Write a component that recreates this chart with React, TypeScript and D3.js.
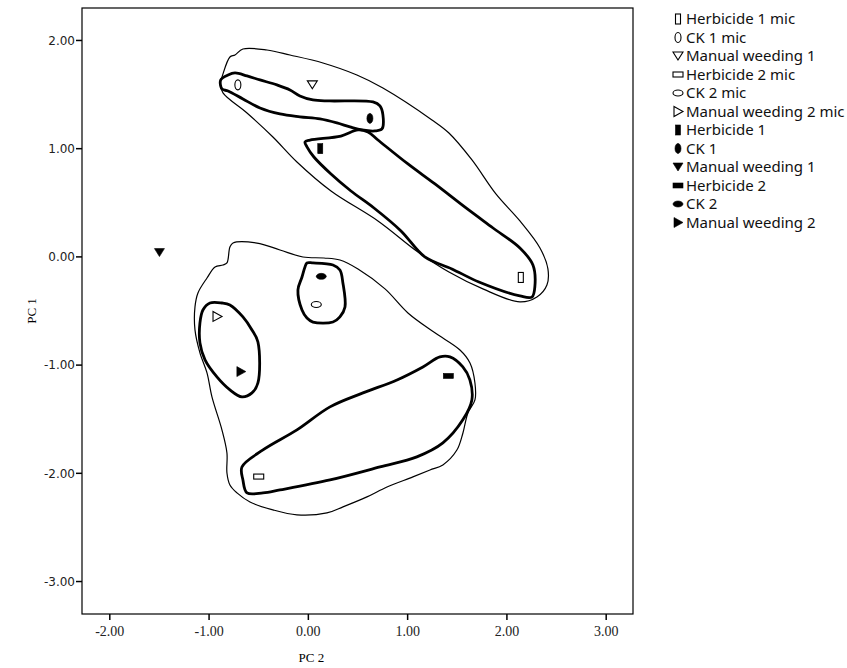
import React from 'react'
import * as d3 from 'd3'

// legend order / series
const seriesNames = [
  'Herbicide 1 mic', 'CK 1 mic', 'Manual weeding 1', 'Herbicide 2 mic', 'CK 2 mic', 'Manual weeding 2 mic',
  'Herbicide 1', 'CK 1', 'Manual weeding 1', 'Herbicide 2', 'CK 2', 'Manual weeding 2',
]
const pc2Values = [2.14, -0.71, 0.04, -0.5, 0.08, -0.92, 0.12, 0.62, -1.5, 1.41, 0.13, -0.68]
const pc1Values = [-0.19, 1.59, 1.59, -2.03, -0.44, -0.55, 1.0, 1.28, 0.04, -1.1, -0.18, -1.06]

const xTicks = [-2, -1, 0, 1, 2, 3]
const yTicks = [2, 1, 0, -1, -2, -3]

// cluster outlines, [PC 2, PC 1]
const upperOuter: [number, number][] = [
  [-0.87, 1.663], [-0.79, 1.847], [-0.739, 1.866], [-0.659, 1.921], [-0.417, 1.912], [-0.185, 1.866],
  [0.147, 1.792], [0.489, 1.681], [0.751, 1.561], [1.245, 1.266], [1.416, 1.145], [1.648, 0.896],
  [1.889, 0.582], [2.131, 0.332], [2.333, 0.082], [2.413, -0.111], [2.403, -0.259], [2.302, -0.37],
  [2.131, -0.416], [1.758, -0.296], [1.416, -0.14], [1.104, 0.045], [0.701, 0.332], [0.228, 0.609],
  [-0.115, 0.877], [-0.357, 1.108], [-0.618, 1.33], [-0.86, 1.515], [-0.89, 1.607],
]
const ck1Group: [number, number][] = [
  [-0.883, 1.635], [-0.809, 1.681], [-0.739, 1.7], [-0.618, 1.672], [-0.487, 1.635], [-0.316, 1.589],
  [-0.185, 1.543], [-0.085, 1.487], [0.046, 1.45], [0.218, 1.441], [0.651, 1.432], [0.721, 1.395],
  [0.751, 1.312], [0.741, 1.182], [0.671, 1.164], [0.54, 1.173], [0.419, 1.201], [0.288, 1.238],
  [0.117, 1.275], [-0.085, 1.294], [-0.286, 1.321], [-0.487, 1.376], [-0.659, 1.459], [-0.809, 1.533],
  [-0.87, 1.552],
]
const herb1Group: [number, number][] = [
  [-0.034, 1.062], [0.016, 1.08], [0.328, 1.117], [0.5, 1.173], [0.6, 1.154], [0.701, 1.08],
  [1.003, 0.859], [1.275, 0.674], [1.588, 0.452], [1.86, 0.267], [2.131, 0.082], [2.262, -0.075],
  [2.282, -0.269], [2.252, -0.371], [2.131, -0.361], [1.718, -0.232], [1.446, -0.111], [1.173, 0.0],
  [0.933, 0.24], [0.661, 0.452], [0.429, 0.609], [0.228, 0.766], [0.056, 0.923], [-0.014, 1.017],
]
const lowerOuter: [number, number][] = [
  [-0.759, 0.128], [-0.518, 0.128], [-0.286, 0.064], [-0.054, -0.001], [0.157, -0.01], [0.318, -0.029],
  [0.5, -0.112], [0.772, -0.296], [1.003, -0.518], [1.275, -0.702], [1.527, -0.86], [1.628, -0.98],
  [1.678, -1.165], [1.678, -1.322], [1.607, -1.442], [1.557, -1.627], [1.496, -1.785], [1.355, -1.922],
  [1.225, -1.969], [1.053, -2.033], [0.792, -2.126], [0.59, -2.218], [0.349, -2.31], [0.187, -2.366],
  [-0.115, -2.384], [-0.357, -2.338], [-0.588, -2.265], [-0.719, -2.181], [-0.79, -2.108], [-0.82, -1.997],
  [-0.82, -1.812], [-0.87, -1.6], [-0.971, -1.294], [-1.021, -1.072], [-1.092, -0.887], [-1.142, -0.675],
  [-1.142, -0.462], [-1.112, -0.333], [-1.021, -0.195], [-0.94, -0.093], [-0.86, -0.075], [-0.82, -0.056],
  [-0.79, 0.091],
]
const ck2Group: [number, number][] = [
  [-0.014, -0.056], [0.046, -0.056], [0.248, -0.075], [0.318, -0.121], [0.348, -0.241], [0.369, -0.463],
  [0.318, -0.555], [0.248, -0.602], [0.046, -0.602], [-0.014, -0.565], [-0.064, -0.491], [-0.105, -0.306],
  [-0.064, -0.186], [-0.034, -0.093],
]
const mw2Group: [number, number][] = [
  [-0.991, -0.426], [-0.87, -0.426], [-0.79, -0.444], [-0.659, -0.555], [-0.568, -0.675], [-0.508, -0.786],
  [-0.508, -1.165], [-0.568, -1.257], [-0.669, -1.294], [-0.79, -1.229], [-0.921, -1.109], [-1.041, -0.952],
  [-1.092, -0.795], [-1.092, -0.61], [-1.062, -0.491],
]
const herb2Group: [number, number][] = [
  [1.325, -0.924], [1.426, -0.924], [1.556, -1.017], [1.627, -1.137], [1.647, -1.322], [1.556, -1.506],
  [1.355, -1.719], [1.093, -1.848], [0.721, -1.941], [0.218, -2.061], [-0.286, -2.153], [-0.457, -2.181],
  [-0.618, -2.181], [-0.659, -2.061], [-0.669, -1.941], [-0.457, -1.784], [-0.115, -1.599], [0.218, -1.386],
  [0.55, -1.257], [0.893, -1.137], [1.154, -1.017],
]

const outerContours = [upperOuter, lowerOuter]
const innerContours = [ck1Group, herb1Group, ck2Group, mw2Group, herb2Group]

// marker shape per series, first six hollow
const shapes = ['tallRect', 'tallEllipse', 'down', 'wideRect', 'wideEllipse', 'right',
  'tallRect', 'tallEllipse', 'down', 'wideRect', 'wideEllipse', 'right']

function Marker({ cx, cy, shape, filled }: { cx: number, cy: number, shape: string, filled: boolean }) {
  const fill = filled ? '#000' : '#fff'
  const sw = filled ? 0.6 : 1.1
  if (shape === 'tallRect')
    return <rect x={cx - 2.5} y={cy - 5} width={5} height={10} fill={fill} stroke="#000" strokeWidth={sw} />
  if (shape === 'wideRect')
    return <rect x={cx - 5} y={cy - 2.5} width={10} height={5} fill={fill} stroke="#000" strokeWidth={sw} />
  if (shape === 'tallEllipse')
    return <ellipse cx={cx} cy={cy} rx={3} ry={5} fill={fill} stroke="#000" strokeWidth={sw} />
  if (shape === 'wideEllipse')
    return <ellipse cx={cx} cy={cy} rx={5} ry={3} fill={fill} stroke="#000" strokeWidth={sw} />
  if (shape === 'down')
    return <path d={`M${cx - 5},${cy - 4}L${cx + 5},${cy - 4}L${cx},${cy + 4}Z`} fill={fill} stroke="#000" strokeWidth={sw} />
  return <path d={`M${cx - 4},${cy - 5}L${cx + 5},${cy}L${cx - 4},${cy + 5}Z`} fill={fill} stroke="#000" strokeWidth={sw} />
}

export default function App() {
  const width = 847
  const height = 668
  const left = 82, right = 633, top = 8, bottom = 614

  const x = d3.scaleLinear().domain([-2.28, 3.27]).range([left, right])
  const y = d3.scaleLinear().domain([-3.3, 2.3]).range([bottom, top])

  const outline = d3.line<[number, number]>()
    .x(d => x(d[0]))
    .y(d => y(d[1]))
    .curve(d3.curveCatmullRomClosed.alpha(0.5))

  const fmt = (t: number) => t.toFixed(2)

  const serif = '"Liberation Serif", "DejaVu Serif", serif'
  const sans = '"DejaVu Sans", Verdana, sans-serif'
  const legendFont = '"Noto Sans", "DejaVu Sans", sans-serif'

  return (
    <svg width={width} height={height} style={{ display: 'block', position: 'absolute', left: 0, top: 0, background: '#fff' }}>
      <rect x={0} y={0} width={width} height={height} fill="#fff" />
      <rect x={left} y={top} width={right - left} height={bottom - top} fill="none" stroke="#000" strokeWidth={1.2} />

      {yTicks.map(t => (
        <g key={'y' + t}>
          <line x1={left - 6} x2={left} y1={y(t)} y2={y(t)} stroke="#000" strokeWidth={1.5} />
          <text x={left - 7} y={y(t)} dy="0.35em" textAnchor="end" fontFamily={sans} fontSize={12} fill="#222">
            {fmt(t)}
          </text>
        </g>
      ))}
      {xTicks.map(t => (
        <g key={'x' + t}>
          <line x1={x(t)} x2={x(t)} y1={bottom} y2={bottom + 6} stroke="#000" strokeWidth={1.5} />
          <text x={x(t)} y={bottom + 22} textAnchor="middle" fontFamily={serif} fontSize={14} fill="#222">
            {fmt(t)}
          </text>
        </g>
      ))}
      <text x={x(0) + 3} y={662} textAnchor="middle" fontFamily={serif} fontSize={13}>PC 2</text>
      <text transform={`translate(36,${(top + bottom) / 2}) rotate(-90)`} textAnchor="middle" fontFamily={serif} fontSize={13}>PC 1</text>

      {outerContours.map((c, i) => (
        <path key={'o' + i} d={outline(c) || ''} fill="none" stroke="#000" strokeWidth={1.2} />
      ))}
      {innerContours.map((c, i) => (
        <path key={'n' + i} d={outline(c) || ''} fill="none" stroke="#000" strokeWidth={2.8} />
      ))}

      {seriesNames.map((s, i) => (
        <Marker key={'p' + i} cx={x(pc2Values[i])} cy={y(pc1Values[i])} shape={shapes[i]} filled={i >= 6} />
      ))}

      {seriesNames.map((s, i) => {
        const cy = 19 + i * 18.5
        return (
          <g key={'l' + i}>
            <Marker cx={678} cy={cy} shape={shapes[i]} filled={i >= 6} />
            <text x={686} y={cy} dy="0.36em" fontFamily={legendFont} fontSize={15} fill="#111">{s}</text>
          </g>
        )
      })}
    </svg>
  )
}
